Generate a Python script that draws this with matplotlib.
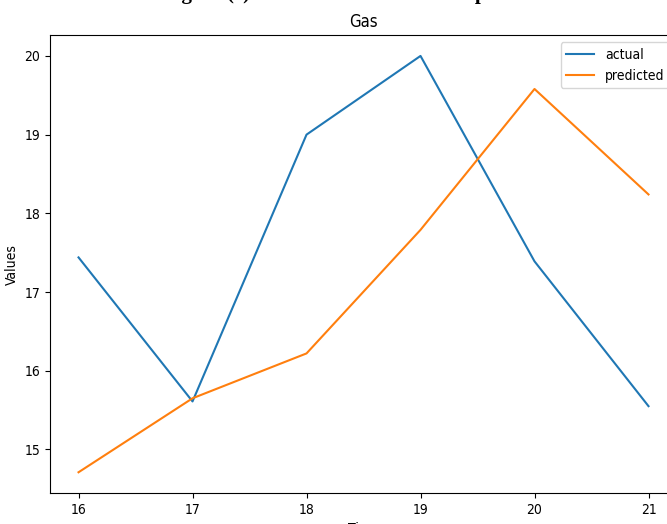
import matplotlib
matplotlib.use("Agg")
from matplotlib import pyplot as plt

# data
steps = [16, 17, 18, 19, 20, 21]
actual = [17.44, 15.61, 19.0, 20.0, 17.39, 15.55]
predicted = [14.71, 15.65, 16.22, 17.79, 19.58, 18.24]

plt.rcParams['font.family'] = ['DejaVu Sans']
plt.rcParams['font.stretch'] = 'condensed'

fig = plt.figure(figsize=(6.67, 5.24), dpi=100)
# axes runs past the right edge, like the cropped original
ax = fig.add_axes([0.075, 0.059, 0.94, 0.874])

ax.plot(steps, actual, label='actual')
ax.plot(steps, predicted, label='predicted')

ax.set_title('Gas')
ax.set_ylabel('Values')
ax.set_xlabel('Time')
ax.legend(loc='upper right')

# caption of the source document, only its descenders show
fig.text(163 / 667, 1 + 1.0 / 524, 'Figure (c) Actual values versus the predicted',
         family='Liberation Serif', weight='bold', fontsize=15,
         ha='left', va='baseline')

fig.savefig('out.png', dpi=100)
